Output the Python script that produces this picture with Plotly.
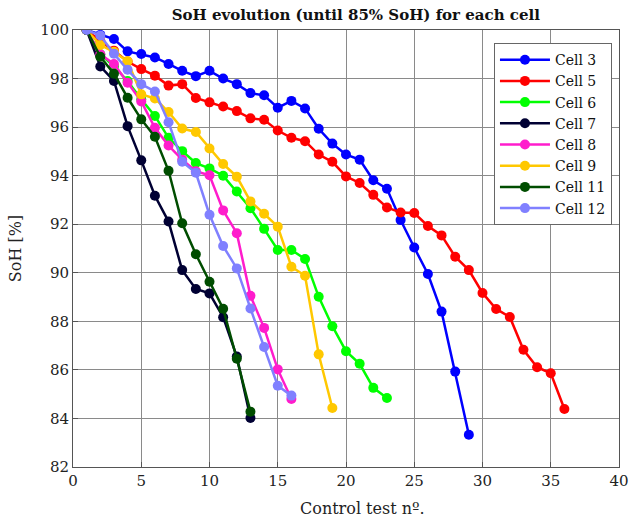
import plotly.graph_objects as go

# State of health (%) measured at each control test, per cell
cells = ["Cell 3", "Cell 5", "Cell 6", "Cell 7", "Cell 8", "Cell 9", "Cell 11", "Cell 12"]

soh_cell3 = [100, 99.8, 99.63, 99.12, 99.01, 98.87, 98.6, 98.32, 98.1, 98.32, 98.0, 97.77,
             97.4, 97.31, 96.8, 97.08, 96.77, 95.93, 95.32, 94.87, 94.66, 93.81, 93.46,
             92.17, 91.04, 89.95, 88.4, 85.93, 83.33]
soh_cell5 = [100, 99.55, 99.15, 98.7, 98.39, 98.12, 97.71, 97.77, 97.2, 97.02, 96.85, 96.66,
             96.36, 96.3, 95.86, 95.56, 95.42, 94.87, 94.57, 93.97, 93.7, 93.21, 92.69,
             92.48, 92.46, 91.93, 91.54, 90.66, 90.11, 89.17, 88.51, 88.18, 86.83, 86.11,
             85.86, 84.39]
soh_cell6 = [100, 99.0, 98.5, 97.9, 97.15, 96.46, 95.56, 95.01, 94.52, 94.3, 94.0, 93.35,
             92.66, 91.81, 90.94, 90.94, 90.57, 89.01, 87.8, 86.77, 86.25, 85.26, 84.84]
soh_cell7 = [100, 98.5, 97.9, 96.04, 94.63, 93.17, 92.11, 90.11, 89.33, 89.15, 88.17, 86.55, 84.02]
soh_cell8 = [100, 99.0, 98.6, 97.83, 97.06, 95.97, 95.24, 94.66, 94.18, 94.02, 92.57, 91.63,
             89.05, 87.73, 86.02, 84.8]
soh_cell9 = [100, 99.38, 99.1, 98.71, 97.35, 97.18, 96.62, 95.94, 95.8, 95.12, 94.48, 93.96,
             92.94, 92.43, 91.9, 90.25, 89.88, 86.64, 84.43]
soh_cell11 = [100, 98.9, 98.2, 97.21, 96.32, 95.6, 94.2, 92.04, 90.76, 89.63, 88.52, 86.46, 84.28]
soh_cell12 = [100, 99.77, 99.02, 98.36, 97.77, 97.47, 96.2, 94.57, 94.12, 92.39, 91.1, 90.18,
              88.53, 86.94, 85.35, 84.94]

series = [soh_cell3, soh_cell5, soh_cell6, soh_cell7, soh_cell8, soh_cell9, soh_cell11, soh_cell12]
colors = ["#0000ff", "#ff0000", "#00ff00", "#000033", "#ff1ccc", "#ffc800", "#004d00", "#8080ff"]

FONT = "DejaVu Serif"

fig = go.Figure()
for name, soh, color in zip(cells, series, colors):
    tests = list(range(1, len(soh) + 1))
    fig.add_trace(go.Scatter(
        x=tests, y=soh, name=name, mode="lines+markers",
        line=dict(color=color, width=2.5),
        marker=dict(color=color, size=10),
    ))

grid = "#8a8a8a"
fig.update_layout(
    width=641, height=524,
    margin=dict(l=73, r=13, t=30, b=57),
    paper_bgcolor="white", plot_bgcolor="white",
    font=dict(family=FONT, size=15, color="#222"),
    title=dict(text="<b>SoH evolution (until 85% SoH) for each cell</b>",
               x=0.555, xanchor="center", y=0.971, yanchor="middle",
               font=dict(family=FONT, size=15, color="#111")),
    xaxis=dict(range=[0, 40], dtick=5, showgrid=True, gridcolor=grid, gridwidth=1,
               showline=True, linecolor="#555", linewidth=1, mirror=True,
               ticks="inside", ticklen=5, tickcolor="#555", zeroline=False,
               ticklabeloverflow="allow", tickfont=dict(size=15)),
    yaxis=dict(range=[82, 100], dtick=2, showgrid=True, gridcolor=grid, gridwidth=1,
               showline=True, linecolor="#555", linewidth=1, mirror=True,
               ticks="inside", ticklen=5, tickcolor="#555", zeroline=False,
               title=dict(text="SoH [%]", standoff=14, font=dict(size=16)),
               tickfont=dict(size=15)),
    legend=dict(x=0.771, y=0.97, xanchor="left", yanchor="top",
                bgcolor="white", bordercolor="#666", borderwidth=1,
                font=dict(family=FONT, size=14, color="#111"),
                tracegroupgap=0, itemwidth=50),
    showlegend=True,
    annotations=[dict(text="Control test nº.", xref="paper", yref="paper",
                      x=0.53, y=-0.095, xanchor="center", yanchor="middle",
                      showarrow=False, font=dict(family=FONT, size=16, color="#222"))],
)

fig.write_html("out.html")
